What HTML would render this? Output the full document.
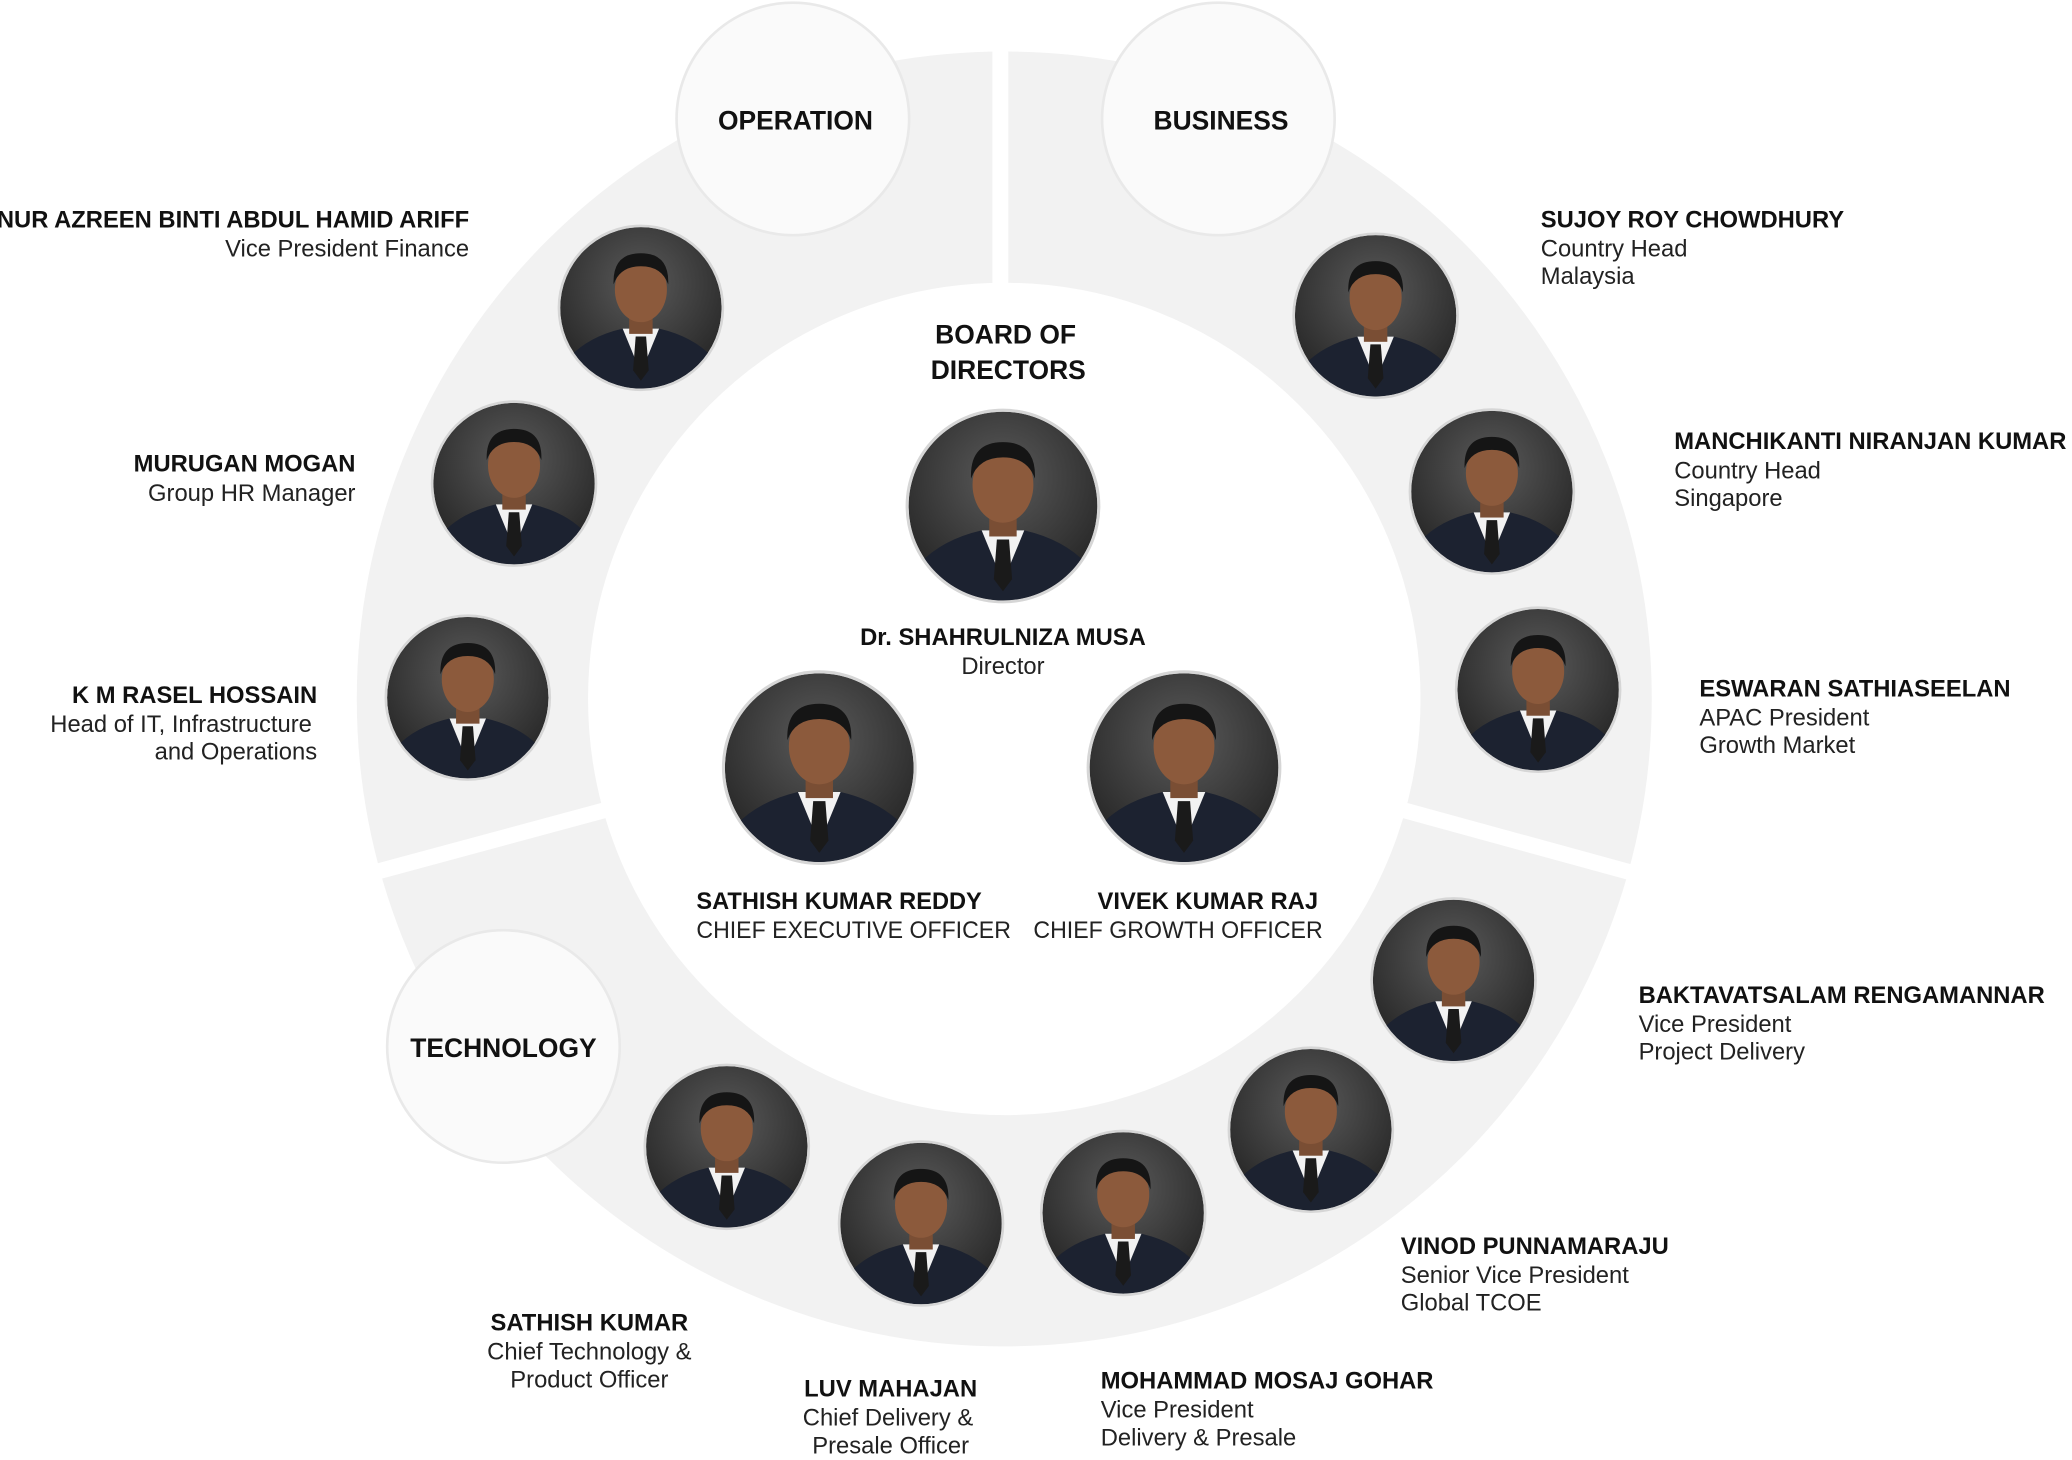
<!DOCTYPE html>
<html><head><meta charset="utf-8"><style>
html,body{margin:0;padding:0;background:#fff;}
svg{display:block;}
text{font-family:"Liberation Sans",Arial,sans-serif;fill:#111;}
.n{font-weight:bold;font-size:18px;}
.r{font-size:18px;fill:#222;}
.t{font-weight:bold;font-size:20px;}
</style></head><body>
<svg width="2072" height="1460" viewBox="0 0 1568 1105" preserveAspectRatio="none" xmlns="http://www.w3.org/2000/svg">
<defs>
<radialGradient id="bg" cx="50%" cy="35%" r="65%"><stop offset="0" stop-color="#5a5a5a"/><stop offset="1" stop-color="#262626"/></radialGradient>
<clipPath id="cc"><circle cx="0" cy="0" r="62"/></clipPath>
<symbol id="p" viewBox="-66 -66 132 132" overflow="visible">
<circle r="64" fill="#d6d6d6"/>
<g clip-path="url(#cc)">
<circle r="62" fill="url(#bg)"/>
<path d="M-62 70 L-55 38 Q-40 22 -14 16 L14 16 Q40 22 55 38 L62 70 Z" fill="#1c2230"/>
<path d="M-14 16 L0 50 L14 16 Z" fill="#f2f2f2"/>
<path d="M-4 22 L4 22 L6 48 L0 56 L-6 48 Z" fill="#1a1a1a"/>
<rect x="-9" y="2" width="18" height="18" fill="#7a4e34"/>
<ellipse cx="0" cy="-14" rx="20" ry="25" fill="#8c5a3c"/>
<path d="M-21 -18 Q-22 -42 0 -42 Q22 -42 21 -18 Q16 -32 0 -32 Q-16 -32 -21 -18 Z" fill="#151515"/>
</g>
</symbol>
</defs>
<rect width="1568" height="1105" fill="#fff"/>
<circle cx="760" cy="529" r="402.5" fill="none" stroke="#f2f2f2" stroke-width="175"/>
<line x1="757" y1="25" x2="757" y2="215" stroke="#fff" stroke-width="12"/>
<line x1="277" y1="662" x2="462" y2="612" stroke="#fff" stroke-width="12"/>
<line x1="1058" y1="612" x2="1244" y2="663" stroke="#fff" stroke-width="12"/>

<circle cx="600" cy="90" r="88" fill="#fafafa" stroke="#e9e9e9" stroke-width="2"/>
<circle cx="922" cy="90" r="88" fill="#fafafa" stroke="#e9e9e9" stroke-width="2"/>
<circle cx="381" cy="792" r="88" fill="#fafafa" stroke="#e9e9e9" stroke-width="2"/>
<text class="t" x="602" y="98" text-anchor="middle">OPERATION</text>
<text class="t" x="924" y="98" text-anchor="middle">BUSINESS</text>
<text class="t" x="381" y="800" text-anchor="middle">TECHNOLOGY</text>

<use href="#p" x="420" y="168" width="130" height="130"/>
<use href="#p" x="324" y="301" width="130" height="130"/>
<use href="#p" x="289" y="463" width="130" height="130"/>
<use href="#p" x="976" y="174" width="130" height="130"/>
<use href="#p" x="1064" y="307" width="130" height="130"/>
<use href="#p" x="1099" y="457" width="130" height="130"/>
<use href="#p" x="1035" y="677" width="130" height="130"/>
<use href="#p" x="927" y="790" width="130" height="130"/>
<use href="#p" x="785" y="853" width="130" height="130"/>
<use href="#p" x="632" y="861" width="130" height="130"/>
<use href="#p" x="485" y="803" width="130" height="130"/>
<use href="#p" x="683" y="307" width="152" height="152"/>
<use href="#p" x="544" y="505" width="152" height="152"/>
<use href="#p" x="820" y="505" width="152" height="152"/>

<text class="t" x="761" y="260" text-anchor="middle">BOARD OF</text>
<text class="t" x="763" y="287" text-anchor="middle">DIRECTORS</text>
<text class="n" x="759" y="488" text-anchor="middle">Dr. SHAHRULNIZA MUSA</text>
<text class="r" x="759" y="510" text-anchor="middle">Director</text>
<text class="n" x="527" y="688" textLength="216" lengthAdjust="spacingAndGlyphs">SATHISH KUMAR REDDY</text>
<text class="r" x="527" y="710" textLength="238" lengthAdjust="spacingAndGlyphs">CHIEF EXECUTIVE OFFICER</text>
<text class="n" x="914" y="688" text-anchor="middle">VIVEK KUMAR RAJ</text>
<text class="r" x="782" y="710" textLength="219" lengthAdjust="spacingAndGlyphs">CHIEF GROWTH OFFICER</text>

<text class="n" x="355" y="172" text-anchor="end">NUR AZREEN BINTI ABDUL HAMID ARIFF</text>
<text class="r" x="355" y="194" text-anchor="end">Vice President Finance</text>
<text class="n" x="269" y="357" text-anchor="end">MURUGAN MOGAN</text>
<text class="r" x="269" y="379" text-anchor="end">Group HR Manager</text>
<text class="n" x="240" y="532" text-anchor="end">K M RASEL HOSSAIN</text>
<text class="r" x="236" y="554" text-anchor="end">Head of IT, Infrastructure</text>
<text class="r" x="240" y="575" text-anchor="end">and Operations</text>

<text class="n" x="1166" y="172">SUJOY ROY CHOWDHURY</text>
<text class="r" x="1166" y="194">Country Head</text>
<text class="r" x="1166" y="215">Malaysia</text>
<text class="n" x="1267" y="340">MANCHIKANTI NIRANJAN KUMAR</text>
<text class="r" x="1267" y="362">Country Head</text>
<text class="r" x="1267" y="383">Singapore</text>
<text class="n" x="1286" y="527">ESWARAN SATHIASEELAN</text>
<text class="r" x="1286" y="549">APAC President</text>
<text class="r" x="1286" y="570">Growth Market</text>
<text class="n" x="1240" y="759">BAKTAVATSALAM RENGAMANNAR</text>
<text class="r" x="1240" y="781">Vice President</text>
<text class="r" x="1240" y="802">Project Delivery</text>
<text class="n" x="1060" y="949">VINOD PUNNAMARAJU</text>
<text class="r" x="1060" y="971">Senior Vice President</text>
<text class="r" x="1060" y="992">Global TCOE</text>
<text class="n" x="833" y="1051">MOHAMMAD MOSAJ GOHAR</text>
<text class="r" x="833" y="1073">Vice President</text>
<text class="r" x="833" y="1094">Delivery &amp; Presale</text>
<text class="n" x="674" y="1057" text-anchor="middle">LUV MAHAJAN</text>
<text class="r" x="672" y="1079" text-anchor="middle">Chief Delivery &amp;</text>
<text class="r" x="674" y="1100" text-anchor="middle">Presale Officer</text>
<text class="n" x="446" y="1007" text-anchor="middle">SATHISH KUMAR</text>
<text class="r" x="446" y="1029" text-anchor="middle">Chief Technology &amp;</text>
<text class="r" x="446" y="1050" text-anchor="middle">Product Officer</text>
</svg>
</body></html>
